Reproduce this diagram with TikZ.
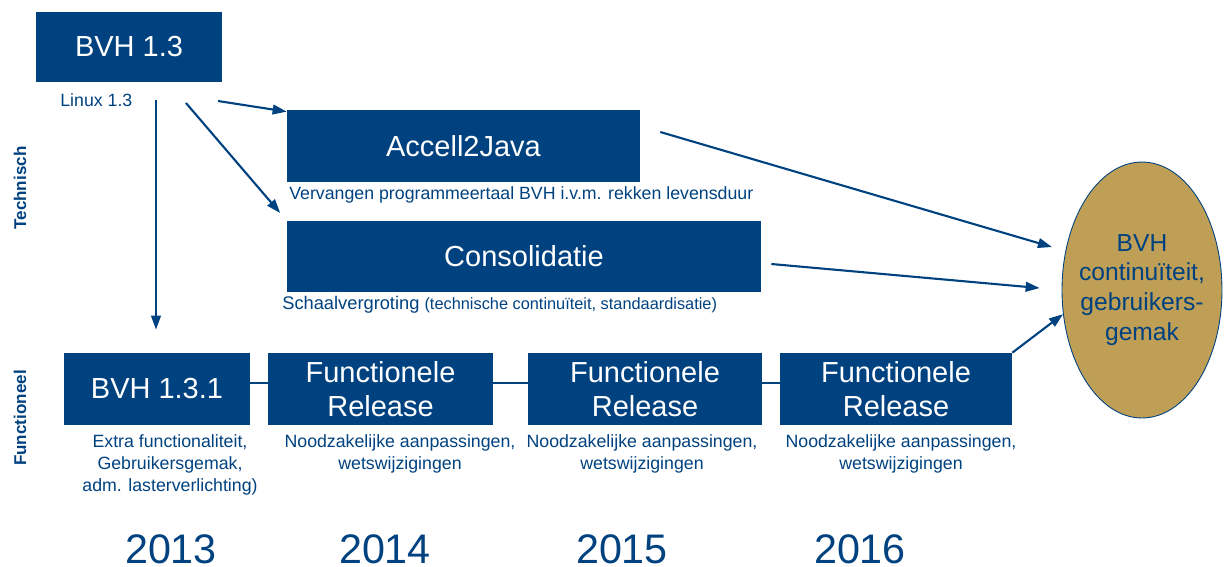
\documentclass[tikz,border=0pt]{standalone}
\usepackage{fontspec}
\setmainfont{Liberation Sans}
\usetikzlibrary{arrows.meta,shapes.geometric}
\definecolor{bvhblue}{RGB}{0,66,128}
\definecolor{bvhgold}{RGB}{191,158,86}
\tikzset{
  box/.style={fill=bvhblue,text=white,inner sep=0pt,align=center,font=\fontsize{16.5}{19}\selectfont},
  lbl/.style={text=bvhblue,inner sep=0pt,align=center,font=\fontsize{10.1}{12.5}\selectfont},
  arr/.style={draw=bvhblue,line width=1.2pt,-{Triangle[length=8pt,width=5.5pt]}},
  link/.style={draw=bvhblue,line width=1pt},
  side/.style={text=bvhblue,rotate=90,font=\fontsize{9.7}{12}\selectfont\bfseries},
  year/.style={text=bvhblue,anchor=base,inner sep=0pt,font=\fontsize{23.5}{28}\selectfont}
}
\begin{document}
\begin{tikzpicture}[x=0.02cm,y=-0.02cm]
\useasboundingbox (0,0) rectangle (1224,566);
%\draw[step=50,gray,very thin] (0,0) grid (1224,566);
\node[side] (tech) at (20,188) {Technisch};
\node[side] (func) at (20,418) {Functioneel};
% technisch
\node[box,minimum width=3.72cm,minimum height=1.4cm] (bvh) at (129,47) {BVH 1.3};
\node[lbl,anchor=west] (linux) at (60,100) {Linux 1.3};
\node[box,minimum width=7.06cm,minimum height=1.44cm] (acc) at (463.5,146) {Accell2Java};
\node[lbl,anchor=west] (accnote) at (289,195) {Vervangen programmeertaal BVH i.v.m. rekken levensduur};
\node[box,minimum width=9.48cm,minimum height=1.42cm] (cons) at (524,256.5) {Consolidatie};
\node[lbl,anchor=west] (consnote) at (282,305) {\fontsize{10.4}{12.5}\selectfont Schaalvergroting {\fontsize{9.3}{11}\selectfont(technische continuïteit, standaardisatie)}};
\node[ellipse,fill=bvhgold,draw=bvhblue,line width=0.5pt,inner sep=0pt,minimum width=3.2cm,minimum height=5.12cm] (goal) at (1142,290) {};
\node[text=bvhblue,align=center,inner sep=0pt,font=\fontsize{14}{17}\selectfont] (goaltext) at (goal.center) {BVH\\continuïteit,\\gebruikers-\\gemak};
% functioneel
\node[box,minimum width=3.72cm,minimum height=1.44cm] (rel1) at (157,389) {BVH 1.3.1};
\node[box,minimum width=4.5cm,minimum height=1.44cm] (rel2) at (380.5,389) {Functionele\\Release};
\node[box,minimum width=4.68cm,minimum height=1.44cm] (rel3) at (645,389) {Functionele\\Release};
\node[box,minimum width=4.64cm,minimum height=1.44cm] (rel4) at (896,389) {Functionele\\Release};
\node[lbl] (note1) at (170,465) {Extra functionaliteit,\\Gebruikersgemak,\\adm. lasterverlichting)};
\node[lbl] (note2) at (400,454) {Noodzakelijke aanpassingen,\\wetswijzigingen};
\node[lbl] (note3) at (642,454) {Noodzakelijke aanpassingen,\\wetswijzigingen};
\node[lbl] (note4) at (901,454) {Noodzakelijke aanpassingen,\\wetswijzigingen};
\node[year] (y13) at (171,563) {2013};
\node[year] (y14) at (385,563) {2014};
\node[year] (y15) at (622,563) {2015};
\node[year] (y16) at (860,563) {2016};
% lijnen
\draw[link] ([yshift=0.12cm]rel1.east) -- ([yshift=0.12cm]rel2.west);
\draw[link] ([yshift=0.12cm]rel2.east) -- ([yshift=0.12cm]rel3.west);
\draw[link] ([yshift=0.12cm]rel3.east) -- ([yshift=0.12cm]rel4.west);
\coordinate (down0) at (156,100);
\coordinate (fan0) at (218,101);
\coordinate (fan1) at (186,103);
\draw[arr,shorten >=0.46cm] (down0) -- (down0 |- rel1.north);
\draw[arr] (fan0) -- ([yshift=-0.04cm]acc.north west);
\draw[arr,shorten >=0.2cm] (fan1) -- (cons.north west);
\draw[arr,shorten >=0.28cm] ([xshift=0.4cm,yshift=0.28cm]acc.east) -- (goal.153);
\draw[arr,shorten >=0.44cm] ([xshift=0.2cm,yshift=-0.15cm]cons.east) -- (goal.west);
\draw[arr] (rel4.north east) -- (goal.197);
\end{tikzpicture}
\end{document}
